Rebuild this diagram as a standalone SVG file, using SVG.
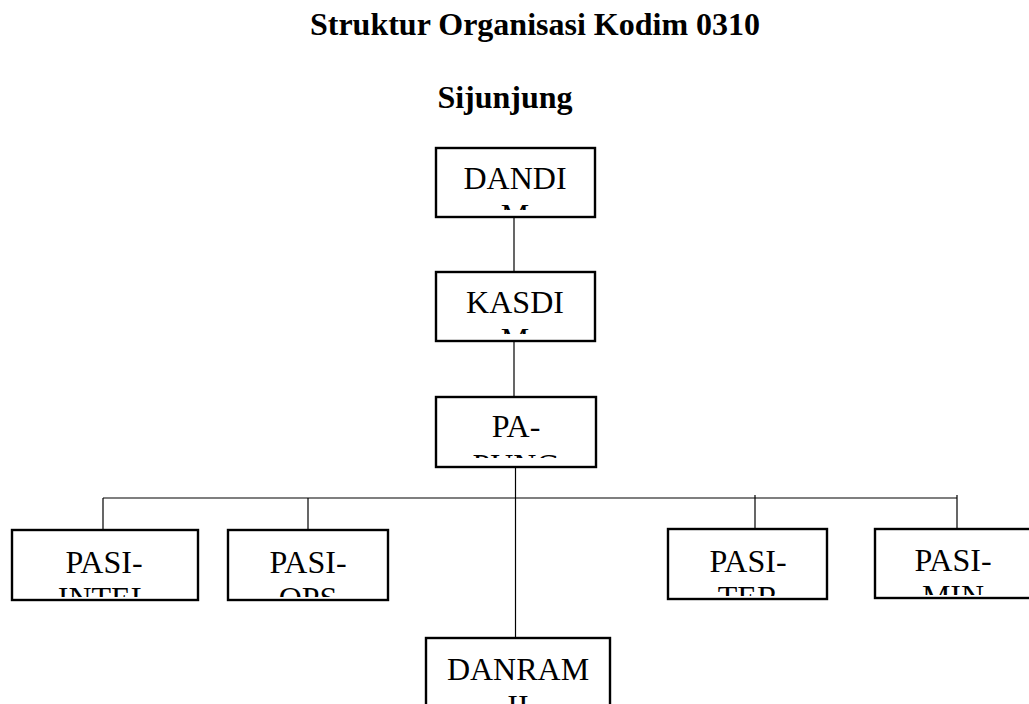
<svg xmlns="http://www.w3.org/2000/svg" width="1029" height="704" viewBox="0 0 1029 704">
<style>
.box{fill:#fff;stroke:#000;stroke-width:2.4}
.lbl{font-family:"Liberation Serif","Times New Roman",serif;font-size:32px;text-anchor:middle;fill:#000}
.title{font-family:"Liberation Serif","Times New Roman",serif;font-size:32px;font-weight:bold;text-anchor:middle;fill:#000}
.conn{stroke:#000;stroke-width:1.2;fill:none}
</style>
<defs>
<clipPath id="c-dandim"><rect x="437" y="149" width="157" height="61"/></clipPath>
<clipPath id="c-kasdim"><rect x="437" y="273" width="157" height="61"/></clipPath>
<clipPath id="c-papung"><rect x="437" y="398" width="158" height="60"/></clipPath>
<clipPath id="c-intel"><rect x="13" y="531" width="184" height="66"/></clipPath>
<clipPath id="c-ops"><rect x="229" y="531" width="158" height="66"/></clipPath>
<clipPath id="c-ter"><rect x="669" y="530" width="157" height="66"/></clipPath>
<clipPath id="c-min"><rect x="876" y="530" width="160" height="65"/></clipPath>
<clipPath id="c-danram"><rect x="427" y="639" width="182" height="65"/></clipPath>
</defs>
<rect width="1029" height="704" fill="#fff"/>
<text class="title" x="535" y="35">Struktur Organisasi Kodim 0310</text>
<text class="title" x="505" y="108">Sijunjung</text>
<g id="connectors">
<line class="conn" x1="514" y1="217" x2="514" y2="272"/>
<line class="conn" x1="514" y1="341" x2="514" y2="397"/>
<line class="conn" x1="515.5" y1="467" x2="515.5" y2="638"/>
<line class="conn" x1="103" y1="498" x2="957" y2="498"/>
<line class="conn" x1="103" y1="498" x2="103" y2="530"/>
<line class="conn" x1="308" y1="498" x2="308" y2="530"/>
<line class="conn" x1="755" y1="495" x2="755" y2="529"/>
<line class="conn" x1="957" y1="495" x2="957" y2="529"/>
</g>
<g id="dandim">
<rect class="box" x="436" y="148" width="159" height="69"/>
<g clip-path="url(#c-dandim)"><text class="lbl" x="515" y="189">DANDI</text><text class="lbl" x="515" y="226">M</text></g>
</g>
<g id="kasdim">
<rect class="box" x="436" y="272" width="159" height="69"/>
<g clip-path="url(#c-kasdim)"><text class="lbl" x="515" y="313">KASDI</text><text class="lbl" x="515" y="350">M</text></g>
</g>
<g id="papung">
<rect class="box" x="436" y="397" width="160" height="70"/>
<g clip-path="url(#c-papung)"><text class="lbl" x="516" y="437">PA-</text><text class="lbl" x="516" y="476">PUNG</text></g>
</g>
<g id="pasi-intel">
<rect class="box" x="12" y="530" width="186" height="70"/>
<g clip-path="url(#c-intel)"><text class="lbl" x="104" y="573">PASI-</text><text class="lbl" x="104" y="609">INTEL</text></g>
</g>
<g id="pasi-ops">
<rect class="box" x="228" y="530" width="160" height="70"/>
<g clip-path="url(#c-ops)"><text class="lbl" x="308" y="573">PASI-</text><text class="lbl" x="308" y="609">OPS</text></g>
</g>
<g id="pasi-ter">
<rect class="box" x="668" y="529" width="159" height="70"/>
<g clip-path="url(#c-ter)"><text class="lbl" x="748" y="572">PASI-</text><text class="lbl" x="748" y="608">TER</text></g>
</g>
<g id="pasi-min">
<rect class="box" x="875" y="529" width="158" height="69"/>
<g clip-path="url(#c-min)"><text class="lbl" x="953" y="571">PASI-</text><text class="lbl" x="953" y="607">MIN</text></g>
</g>
<g id="danram">
<rect class="box" x="426" y="638" width="184" height="80"/>
<g clip-path="url(#c-danram)"><text class="lbl" x="518" y="680">DANRAM</text><text class="lbl" x="518" y="717">II</text></g>
</g>
</svg>
